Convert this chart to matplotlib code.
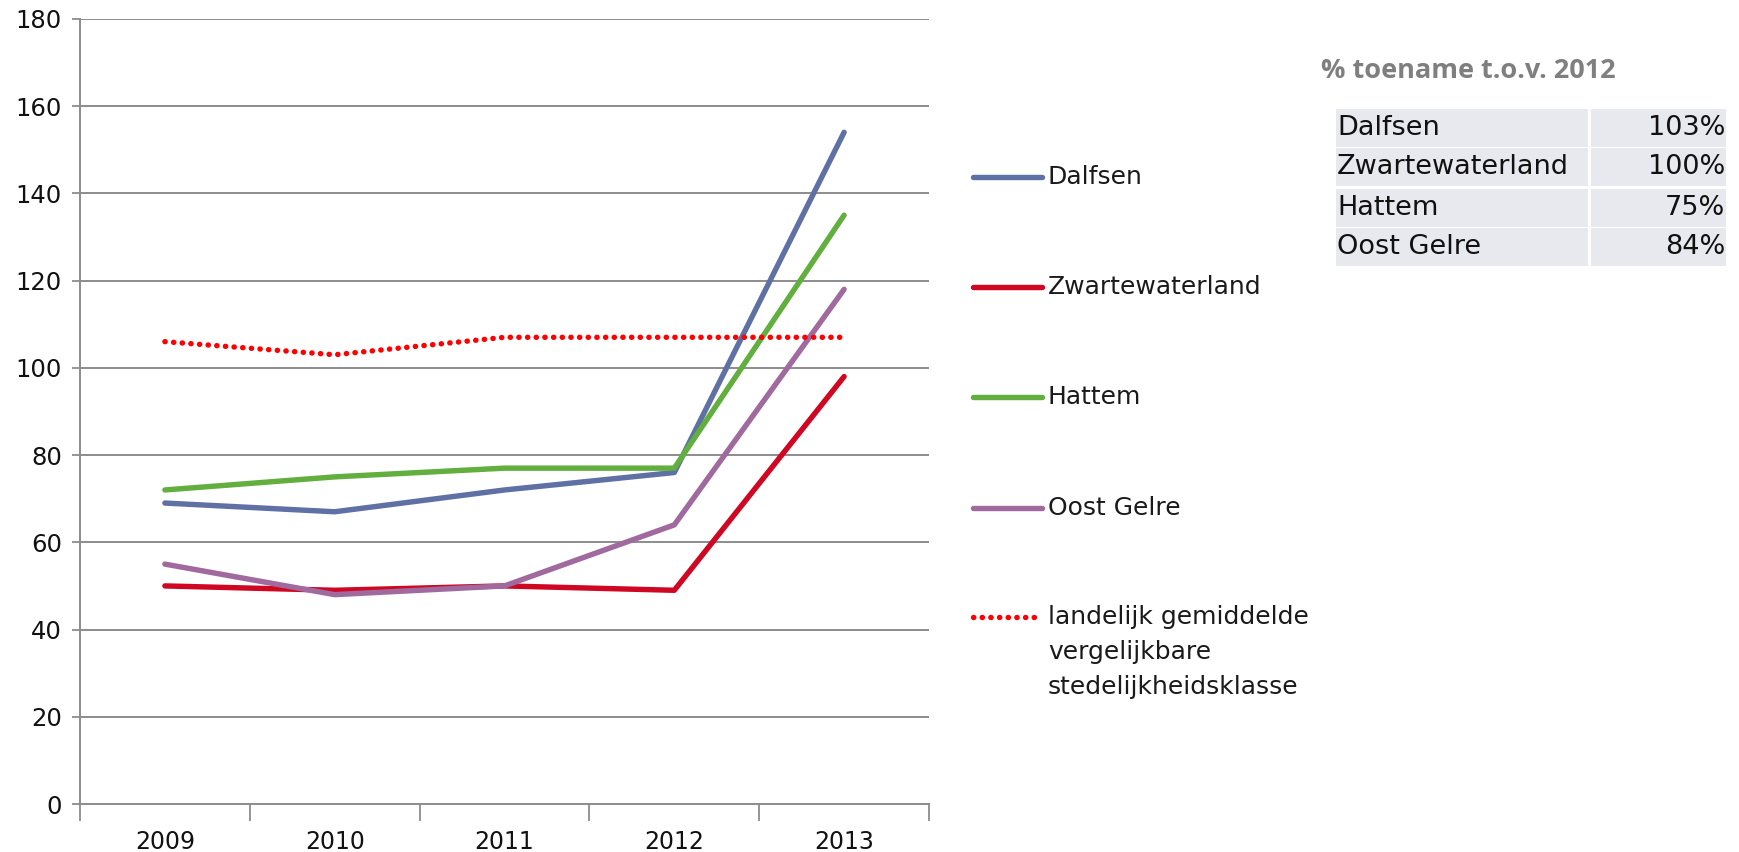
import matplotlib
matplotlib.use("Agg")
import matplotlib.pyplot as plt
from matplotlib.lines import Line2D
from matplotlib.patches import Rectangle

years = ["2009", "2010", "2011", "2012", "2013"]
series_names = ["Dalfsen", "Zwartewaterland", "Hattem", "Oost Gelre"]
dalfsen = [69, 67, 72, 76, 154]
zwartewaterland = [50, 49, 50, 49, 98]
hattem = [72, 75, 77, 77, 135]
oost_gelre = [55, 48, 50, 64, 118]
landelijk = [106, 103, 107, 107, 107]
landelijk_label_lines = ["landelijk gemiddelde", "vergelijkbare", "stedelijkheidsklasse"]
y_ticks = [0, 20, 40, 60, 80, 100, 120, 140, 160, 180]
table_title = "% toename t.o.v. 2012"
table_names = ["Dalfsen", "Zwartewaterland", "Hattem", "Oost Gelre"]
table_values = ["103%", "100%", "75%", "84%"]

colors = ["#5f70a5", "#cf0722", "#62ae3e", "#a06a9f"]
dot_color = "#ff0000"
grid_color = "#8c8c8c"

W, H = 1739, 852
fig = plt.figure(figsize=(W / 100, H / 100), dpi=100)
plt.rcParams['font.family'] = ['DejaVu Sans']

def fx(px):
    return px / W

def fy(py):
    return 1 - py / H

LW = 3.9
DOT = (0, (0.05, 1.55))

ax_left, ax_right, ax_top, ax_bottom = 80, 929, 18.9, 804
ax = fig.add_axes([fx(ax_left), fy(ax_bottom), fx(ax_right - ax_left), (ax_bottom - ax_top) / H])

x = list(range(len(years)))
for vals, c in zip([dalfsen, zwartewaterland, hattem, oost_gelre], colors):
    ax.plot(x, vals, color=c, lw=LW, solid_capstyle='round', solid_joinstyle='round', zorder=3)
ax.plot(x, landelijk, color=dot_color, lw=LW, linestyle=DOT,
        dash_capstyle='round', zorder=3)

ax.set_xlim(-0.5, len(years) - 0.5)
ax.set_ylim(0, 180)
ax.set_yticks(y_ticks)
ax.set_yticklabels([str(v) for v in y_ticks], fontsize=17.5, color="#111111")
ax.set_xticks(x)
ax.set_xticklabels(years, fontsize=17, color="#111111")
ax.tick_params(axis='x', length=0, pad=19)
ax.tick_params(axis='y', length=6, width=1.3, color=grid_color, pad=7)
ax.set_xticks([i - 0.5 for i in range(len(years) + 1)], minor=True)
ax.tick_params(axis='x', which='minor', length=12, width=1.3, color=grid_color)

for v in y_ticks[1:]:
    ax.axhline(v, color=grid_color, lw=1.4, zorder=1)
for s in ['top', 'right']:
    ax.spines[s].set_visible(False)
for s in ['left', 'bottom']:
    ax.spines[s].set_color(grid_color)
    ax.spines[s].set_linewidth(1.4)

# legend (manual)
leg_y = [177.4, 287.2, 397.0, 508.0]
for name, c, yy in zip(series_names, colors, leg_y):
    fig.add_artist(Line2D([fx(973), fx(1042)], [fy(yy), fy(yy)], color=c, lw=LW,
                          solid_capstyle='round', transform=fig.transFigure))
    fig.text(fx(1048), fy(yy), name, fontsize=18, va='center', ha='left', color="#1a1a1a")
fig.add_artist(Line2D([fx(973), fx(1037)], [fy(616.6), fy(616.6)], color=dot_color, lw=LW,
                      linestyle=DOT, dash_capstyle='round', transform=fig.transFigure))
for i, line in enumerate(landelijk_label_lines):
    fig.text(fx(1048), fy(616.6 + 35 * i), line, fontsize=18, va='center', ha='left',
             color="#1a1a1a")

# table
fig.text(fx(1321), fy(71.5), table_title, fontsize=19.5, fontweight='bold', color="#7f7f7f",
         family='Open Sans', va='center', ha='left')
row_tops = [109, 148, 189, 228]
row_h = 37.5
cell_color = "#e8e9ee"
for name, val, top in zip(table_names, table_values, row_tops):
    fig.add_artist(Rectangle((fx(1336), fy(top + row_h)), fx(1588 - 1336), row_h / H,
                             facecolor=cell_color, edgecolor='none', transform=fig.transFigure))
    fig.add_artist(Rectangle((fx(1591), fy(top + row_h)), fx(1726 - 1591), row_h / H,
                             facecolor=cell_color, edgecolor='none', transform=fig.transFigure))
    fig.text(fx(1337), fy(top + row_h / 2), name, fontsize=19.5, va='center', ha='left', color="#111111")
    fig.text(fx(1725), fy(top + row_h / 2), val, fontsize=19.5, va='center', ha='right', color="#111111")

fig.savefig("out.png", dpi=100)
